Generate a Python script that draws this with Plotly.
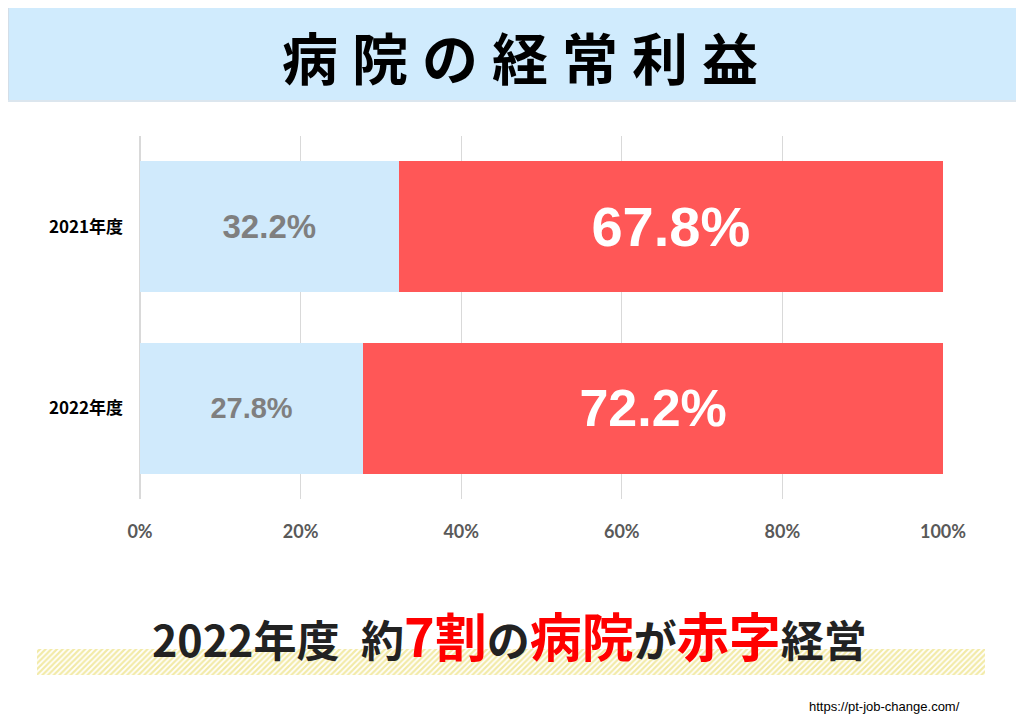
import plotly.graph_objects as go

categories = ["2021年度", "2022年度"]
surplus = [32.2, 27.8]     # 黒字 (light blue)
deficit = [67.8, 72.2]     # 赤字 (red)
surplus_label_sizes = [33, 29]
deficit_label_sizes = [56, 52]
tick_vals = [0, 20, 40, 60, 80, 100]
tick_text = ["0%", "20%", "40%", "60%", "80%", "100%"]

# page body has an 8px margin: the figure starts at (8, 8) of the window
OFF = 8
W, H = 1024 - OFF, 724 - OFF
def px(x):
    return (x - OFF) / W
def py(y):
    return 1 - (y - OFF) / H

fig = go.Figure()

fig.add_trace(go.Bar(
    y=categories, x=surplus, orientation="h", name="黒字",
    marker=dict(color="#D0EAFC", line=dict(width=0)),
    text=[f"{v:.1f}%" for v in surplus], textposition="inside",
    insidetextanchor="middle",
    textfont=dict(family="Liberation Sans, Arial", size=surplus_label_sizes,
                  color="#7F7F7F", weight="bold"),
    hoverinfo="skip",
))
fig.add_trace(go.Bar(
    y=categories, x=deficit, orientation="h", name="赤字",
    marker=dict(color="#FF5757", line=dict(width=0)),
    text=[f"{v:.1f}%" for v in deficit], textposition="inside",
    insidetextanchor="middle",
    textfont=dict(family="Liberation Sans, Arial", size=deficit_label_sizes,
                  color="#FFFFFF", weight="bold"),
    hoverinfo="skip",
))

# hatched highlight stripe under the bottom caption
fig.add_trace(go.Scatter(
    x=[37, 985, 985, 37, 37], y=[649, 649, 675, 675, 649],
    xaxis="x2", yaxis="y2", mode="lines", fill="toself",
    line=dict(width=0, color="rgba(0,0,0,0)"),
    fillcolor="rgba(0,0,0,0)",
    fillpattern=dict(shape="/", fgcolor="#E6D650", bgcolor="#FFFFFF",
                     size=4, solidity=0.55),
    hoverinfo="skip", showlegend=False,
))

shapes = [
    dict(type="rect", xref="paper", yref="paper", x0=px(0), x1=px(1024), y0=py(101), y1=py(0),
         fillcolor="#D0EBFD", line=dict(width=0), layer="below"),
    dict(type="rect", xref="paper", yref="paper", x0=px(0), x1=px(9), y0=py(101), y1=py(0),
         fillcolor="#D3DEE8", line=dict(width=0), layer="below"),
    dict(type="line", xref="paper", yref="paper", x0=px(0), x1=px(1024), y0=py(101), y1=py(101),
         line=dict(color="#DCE6EE", width=2), layer="below"),
]

annotations = [
    dict(text="病\u2005院\u2005の\u2005経\u2005常\u2005利\u2005益", xref="paper", yref="paper",
         x=px(520), y=py(55), showarrow=False, xanchor="center", yanchor="middle",
         font=dict(family="Noto Sans CJK JP", size=56, color="#000000", weight="bold")),
    dict(text="2022年度\u2002約<span style='color:#FF0000;font-size:52px'>7割</span>の"
              "<span style='color:#FF0000;font-size:52px'>病院</span>が"
              "<span style='color:#FF0000;font-size:52px'>赤字</span>経営",
         xref="paper", yref="paper", x=px(509), y=py(634), showarrow=False,
         xanchor="center", yanchor="middle",
         font=dict(family="Noto Sans CJK JP", size=43, color="#222222", weight="bold")),
    dict(text="https://pt-job-change.com/", xref="paper", yref="paper",
         x=px(962), y=py(706), showarrow=False, xanchor="right", yanchor="middle",
         font=dict(family="Liberation Sans Narrow, Liberation Sans, Arial", size=13,
                   color="#000000")),
]

fig.update_layout(
    width=W, height=H, autosize=False,
    margin=dict(l=0, r=0, t=0, b=0, pad=0),
    paper_bgcolor="#FFFFFF", plot_bgcolor="rgba(0,0,0,0)",
    barmode="stack", bargap=0.28, showlegend=False,
    xaxis=dict(domain=[px(140), px(943)], range=[0, 100], automargin=False,
               tickvals=tick_vals, ticktext=tick_text,
               showgrid=True, gridcolor="#D9D9D9", gridwidth=1,
               zeroline=True, zerolinecolor="#D9D9D9", zerolinewidth=2,
               showline=False, ticks="", ticklabelstandoff=20,
               tickfont=dict(family="Lato, Open Sans", size=18, color="#595959",
                             weight="bold"),
               fixedrange=True),
    yaxis=dict(domain=[py(499), py(136)], categoryorder="array", automargin=False,
               categoryarray=categories, autorange="reversed",
               showgrid=False, zeroline=False, showline=False, ticks="",
               ticklabelstandoff=16,
               tickfont=dict(family="Noto Sans CJK JP", size=17, color="#000000",
                             weight="bold"),
               fixedrange=True),
    xaxis2=dict(domain=[0, 1], range=[OFF, OFF + W], visible=False, anchor="y2",
                automargin=False, fixedrange=True),
    yaxis2=dict(domain=[0, 1], range=[OFF + H, OFF], visible=False, anchor="x2",
                automargin=False, fixedrange=True),
    shapes=shapes, annotations=annotations,
)

fig.write_html("out.html")
